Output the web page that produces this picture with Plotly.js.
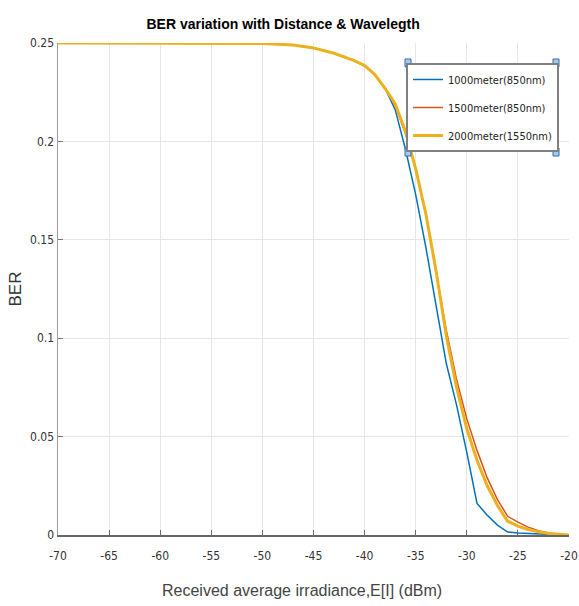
<!DOCTYPE html>
<html><head><meta charset="utf-8">
<script src="https://cdn.plot.ly/plotly-3.0.1.min.js"></script>
<style>html,body{margin:0;padding:0;background:#fff}#chart{width:579px;height:606px}</style>
</head><body><div id="chart"></div><script>
const irradiance = [-70,-65,-60,-55,-50,-47,-45,-43,-41,-40,-39,-38,-37,-36,-35,-34,-33,-32,-31,-30,-29,-28,-27,-26,-25,-24,-23,-22,-21,-20];
const ber1000m850 = [0.25,0.25,0.25,0.25,0.2497,0.249,0.2475,0.2448,0.241,0.2385,0.234,0.227,0.216,0.196,0.173,0.146,0.116,0.087,0.066,0.042,0.016,0.010,0.005,0.0015,0.0010,0.0007,0.0004,0.0002,0.0001,0];
const ber1500m850 = [0.25,0.25,0.25,0.25,0.2497,0.249,0.2475,0.2448,0.241,0.2385,0.234,0.227,0.218,0.204,0.186,0.163,0.134,0.104,0.079,0.059,0.043,0.029,0.018,0.0095,0.0065,0.004,0.0022,0.001,0.0004,0];
const ber2000m1550 = [0.25,0.25,0.25,0.25,0.2497,0.249,0.2475,0.2448,0.241,0.2385,0.234,0.227,0.219,0.205,0.186,0.163,0.134,0.101,0.075,0.054,0.038,0.025,0.015,0.007,0.0045,0.0028,0.0016,0.0008,0.0003,0];
const seriesNames = ['1000meter(850nm)','1500meter(850nm)','2000meter(1550nm)'];
const xTickVals = [-70,-65,-60,-55,-50,-45,-40,-35,-30,-25,-20];
const xTickText = ['-70','-65','-60','-55','-50','-45','-40','-35','-30','-25','-20'];
const yTickVals = [0,0.05,0.1,0.15,0.2,0.25];
const yTickText = ['0','0.05','0.1','0.15','0.2','0.25'];
const xTitle = 'Received average irradiance,E[I] (dBm)';

const colors = ['#0072BD','#D95319','#EDB120'];
const widths = [1.5,1.5,3];
const ys = [ber1000m850, ber1500m850, ber2000m1550];
const traces = ys.map((y,i)=>({
  x: irradiance, y: y, type:'scatter', mode:'lines', name: seriesNames[i],
  legendgroup: 'g'+i,
  line:{color:colors[i], width:widths[i]}
}));

const L=58, T=43, W=511, H=492;
const px2x = p => (p-L)/W;
const py2y = p => (T+H-p)/H;
const handleCorners = [[408,63],[556,63],[408,152],[556,152]];
const shapes = handleCorners.map(([hx,hy])=>({
  type:'rect', xref:'paper', yref:'paper',
  x0:px2x(hx-3), x1:px2x(hx+3), y0:py2y(hy+4), y1:py2y(hy-4),
  fillcolor:'#a9c9ea', line:{color:'#2f6db5', width:1}
}));

const fam = '"DejaVu Sans Condensed", "Liberation Sans", Arial, sans-serif';
const layout = {
  width:579, height:606,
  margin:{l:L, r:579-L-W, t:T, b:606-T-H},
  paper_bgcolor:'#fff', plot_bgcolor:'#fff',
  font:{family:fam, color:'#262626'},
  title:{text:'<b>BER variation with Distance & Wavelegth</b>', x:0.489, xanchor:'center', y:0.96, yanchor:'middle',
    font:{size:14, color:'#000', family:'"Liberation Sans", Arial, sans-serif'}},
  xaxis:{range:[-70,-20], tickvals:xTickVals, ticktext:xTickText, ticks:'inside', ticklen:5, tickcolor:'#666',
    showline:true, linecolor:'#666', linewidth:2, showgrid:true, gridcolor:'#e6e6e6', zeroline:false,
    ticklabeloverflow:'allow', ticklabelstandoff:9, automargin:false,
    tickfont:{size:12, color:'#333'}},
  yaxis:{range:[0,0.25], tickvals:yTickVals, ticktext:yTickText, ticks:'inside', ticklen:5, tickcolor:'#777',
    showline:true, linecolor:'#999', linewidth:1.5, showgrid:true, gridcolor:'#e6e6e6', zeroline:false,
    automargin:false,
    tickfont:{size:12, color:'#333'},
    title:{text:'BER', standoff:4, font:{size:17, color:'#333', family:'"Liberation Sans", Arial, sans-serif'}}},
  annotations:[{text:xTitle, xref:'paper', yref:'paper', x:px2x(302), y:py2y(590), xanchor:'center', yanchor:'middle',
    showarrow:false, font:{size:16, color:'#444', family:'"Liberation Sans", Arial, sans-serif'}}],
  showlegend:true,
  legend:{x:px2x(406), xanchor:'left', y:py2y(63), yanchor:'top', bgcolor:'#fff', bordercolor:'#808080', borderwidth:2,
    tracegroupgap:9, font:{size:11, color:'#222'}},
  shapes: shapes
};
Plotly.newPlot('chart', traces, layout, {staticPlot:true, displayModeBar:false});
</script></body></html>
